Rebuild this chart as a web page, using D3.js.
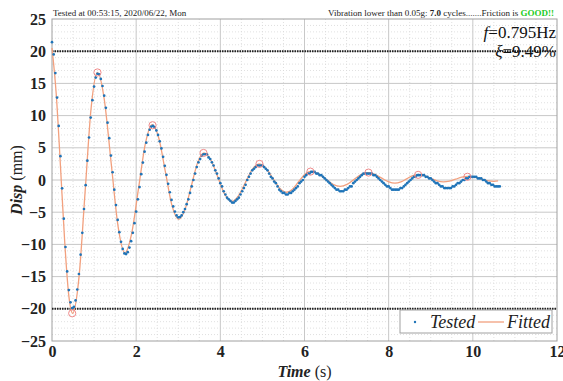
<!DOCTYPE html>
<html>
<head>
<meta charset="utf-8">
<script src="https://cdn.jsdelivr.net/npm/d3@7"></script>
<style>
  body { margin: 0; background: #fff; }
  svg text { font-family: "Liberation Serif", "Times New Roman", serif; }
</style>
</head>
<body>
<div id="chart"></div>
<script>
// tested displacement, one sample every sampleStep seconds from t = 0
const sampleStep = 0.04;
const testedDisp = [
  21.4, 19.5, 16.6, 12.8, 8.4, 3.7, -1.3, -6.0, -10.4, -14.2, -17.1, -19.0, -19.9,
  -19.7, -18.7, -17.0, -14.6, -11.6, -8.2, -4.5, -0.8, 3.0, 6.6, 9.7, 12.4, 14.5, 15.9, 16.5,
  16.4, 15.7, 14.6, 13.1, 11.2, 8.9, 6.5, 3.8, 1.2, -1.5, -3.9, -6.2, -8.1, -9.6, -10.7, -11.4,
  -11.5, -11.2, -10.5, -9.5, -8.2, -6.7, -4.9, -3.0, -1.1, 0.9, 2.7, 4.4, 5.8, 7.0, 7.8, 8.3,
  8.4, 8.2, 7.7, 7.0, 6.0, 4.9, 3.6, 2.2, 0.8, -0.6, -1.9, -3.1, -4.1, -4.9, -5.5, -5.8,
  -5.75, -5.5, -5.0, -4.5, -3.75, -3.0, -2.0, -1.0, 0, 1.0, 2.0, 2.75, 3.25, 3.75, 4.0,
  4.0, 4.0, 3.5, 3.25, 2.75, 2.25, 1.5, 1.0, 0.25, -0.5, -1.0, -1.75, -2.25, -2.75, -3.0, -3.25, -3.5,
  -3.5, -3.25, -3.0, -2.75, -2.25, -1.75, -1.25, -0.75, 0, 0.5, 1.0, 1.5, 1.75, 2.0, 2.25, 2.25,
  2.25, 2.25, 2.0, 1.75, 1.5, 1.0, 0.5, 0.25, -0.25, -0.5, -1.0, -1.5, -1.75, -2.0, -2.0, -2.25,
  -2.25, -2.0, -2.0, -1.75, -1.5, -1.25, -1.0, -0.5, -0.25, 0, 0.5, 0.75, 1.0, 1.0, 1.25, 1.25,
  1.25, 1.0, 1.0, 0.75, 0.75, 0.5, 0.25, 0, -0.25, -0.5, -0.75, -1.0, -1.25, -1.5, -1.5, -1.75, -1.75,
  -1.75, -1.5, -1.5, -1.25, -1.0, -1.0, -0.5, -0.25, 0, 0.25, 0.5, 0.75, 1.0, 1.0, 1.0,
  1.0, 1.0, 1.0, 0.75, 0.75, 0.5, 0.25, 0, -0.25, -0.5, -0.75, -1.0, -1.0, -1.25, -1.5, -1.5, -1.5,
  -1.5, -1.5, -1.25, -1.25, -1.0, -0.75, -0.5, -0.25, 0, 0.25, 0.5, 0.5, 0.75, 0.75,
  0.75, 0.75, 0.75, 0.5, 0.5, 0.25, 0.25, 0, -0.25, -0.5, -0.5, -0.75, -1.0, -1.0, -1.25, -1.25,
  -1.25, -1.25, -1.25, -1.0, -1.0, -0.75, -0.5, -0.5, -0.25, 0, 0, 0.25, 0.25, 0.5, 0.5, 0.5,
  0.5, 0.5, 0.25, 0.25, 0.25, 0, 0, -0.25, -0.5, -0.5, -0.75, -0.75, -1.0, -1.0, -1.0, -1.0
];

// fitted curve, read at extremes and between them
const fitTime = [0, 0.1, 0.2, 0.3, 0.4, 0.49, 0.64, 0.785, 0.93, 1.08, 1.24, 1.405, 1.57, 1.73,
  1.89, 2.055, 2.22, 2.38, 2.54, 2.695, 2.85, 3.01, 3.16, 3.31, 3.46, 3.61, 3.775, 3.94, 4.105, 4.27,
  4.43, 4.595, 4.76, 4.92, 5.08, 5.245, 5.41, 5.57, 5.715, 5.86, 6.005, 6.15, 6.325, 6.5, 6.675, 6.85,
  7.01, 7.175, 7.34, 7.5, 7.66, 7.825, 7.99, 8.15, 8.29, 8.425, 8.56, 8.7, 8.85, 9.0, 9.15, 9.3,
  9.445, 9.59, 9.735, 9.88, 10.035, 10.19, 10.345, 10.5, 10.6];
const fitDisp = [20.5, 13.4, 2.3, -9.4, -18.0, -20.7, -15.2, -2.0, 11.2, 16.7, 12.6, 2.7, -7.2, -11.3,
  -8.4, -1.35, 5.7, 8.6, 6.45, 1.25, -3.95, -6.1, -4.6, -0.95, 2.7, 4.2, 3.1, 0.45, -2.2, -3.3,
  -2.45, -0.4, 1.65, 2.5, 1.86, 0.3, -1.26, -1.9, -1.42, -0.275, 0.87, 1.35, 1.0, 0.175, -0.66, -1.0,
  -0.69, 0.075, 0.84, 1.15, 0.91, 0.325, -0.26, -0.5, -0.3, 0.175, 0.65, 0.85, 0.68, 0.275, -0.13, -0.3,
  -0.18, 0.125, 0.43, 0.55, 0.44, 0.175, -0.09, -0.2, -0.15];

// picked peaks (red circles)
const peakTime = [0.48, 1.08, 2.39, 3.6, 4.93, 6.14, 7.52, 8.7, 9.87];
const peakDisp = [-20.7, 16.7, 8.5, 4.2, 2.5, 1.3, 1.15, 0.8, 0.5];

const limitLines = [20, -20];
const xTicks = [0, 2, 4, 6, 8, 10, 12];
const yTicks = [-25, -20, -15, -10, -5, 0, 5, 10, 15, 20, 25];

const width = 563, height = 381;
const margin = {top: 19, right: 6, bottom: 40, left: 52};

const svg = d3.select('#chart').append('svg')
  .attr('width', width).attr('height', height);

const x = d3.scaleLinear().domain([0, 12]).range([margin.left, width - margin.right]);
const y = d3.scaleLinear().domain([-25, 25]).range([height - margin.bottom, margin.top]);

// grid - minor dotted, major solid
const grid = svg.append('g');
grid.selectAll('.vmin').data(d3.range(0.5, 12, 0.5).filter(v => v % 2 !== 0)).join('line')
  .attr('x1', d => x(d)).attr('x2', d => x(d))
  .attr('y1', y(25)).attr('y2', y(-25))
  .attr('stroke', '#d8d8d8').attr('stroke-width', 0.8).attr('stroke-dasharray', '1,2');
grid.selectAll('.hmin').data(d3.range(-24, 25, 1).filter(v => v % 5 !== 0)).join('line')
  .attr('x1', x(0)).attr('x2', x(12))
  .attr('y1', d => y(d)).attr('y2', d => y(d))
  .attr('stroke', '#d8d8d8').attr('stroke-width', 0.8).attr('stroke-dasharray', '1,2');
grid.selectAll('.vmaj').data(xTicks.slice(1, -1)).join('line')
  .attr('x1', d => x(d)).attr('x2', d => x(d))
  .attr('y1', y(25)).attr('y2', y(-25))
  .attr('stroke', '#c8c8c8').attr('stroke-width', 1);
grid.selectAll('.hmaj').data(yTicks.slice(1, -1)).join('line')
  .attr('x1', x(0)).attr('x2', x(12))
  .attr('y1', d => y(d)).attr('y2', d => y(d))
  .attr('stroke', '#c8c8c8').attr('stroke-width', 1);

// frame
svg.append('rect')
  .attr('x', x(0)).attr('y', y(25))
  .attr('width', x(12) - x(0)).attr('height', y(-25) - y(25))
  .attr('fill', 'none').attr('stroke', '#a0a0a0').attr('stroke-width', 1);

// +/-20 limit lines
svg.selectAll('.limit').data(limitLines).join('line')
  .attr('x1', x(0)).attr('x2', x(12))
  .attr('y1', d => y(d)).attr('y2', d => y(d))
  .attr('stroke', '#222').attr('stroke-width', 2).attr('stroke-dasharray', '1.5,1');

// axes
const yAxis = svg.append('g').attr('transform', `translate(${margin.left},0)`)
  .call(d3.axisLeft(y).tickValues(yTicks).tickSize(0).tickPadding(6));
const xAxis = svg.append('g').attr('transform', `translate(0,${height - margin.bottom})`)
  .call(d3.axisBottom(x).tickValues(xTicks).tickSize(0).tickPadding(5));
[yAxis, xAxis].forEach(g => {
  g.select('.domain').remove();
  g.selectAll('text').attr('font-size', 16).attr('font-weight', 'bold')
    .attr('fill', '#222').style('font-family', '"Liberation Serif", serif');
});

// fitted line
const line = d3.line().x(d => x(d[0])).y(d => y(d[1])).curve(d3.curveMonotoneX);
svg.append('path')
  .datum(fitTime.map((t, i) => [t, fitDisp[i]]))
  .attr('d', line)
  .attr('fill', 'none').attr('stroke', '#f2a07e').attr('stroke-width', 1.3);

// tested dots
svg.append('g').selectAll('circle').data(testedDisp).join('circle')
  .attr('cx', (d, i) => x(i * sampleStep))
  .attr('cy', d => y(d))
  .attr('r', 1.35)
  .attr('fill', '#1f74b8');

// peak markers
svg.append('g').selectAll('circle').data(peakTime).join('circle')
  .attr('cx', d => x(d))
  .attr('cy', (d, i) => y(peakDisp[i]))
  .attr('r', 3.6)
  .attr('fill', 'none').attr('stroke', '#f08a8a').attr('stroke-width', 1);

// header texts
svg.append('text').attr('x', 53).attr('y', 16)
  .attr('font-size', 9).attr('fill', '#222')
  .text('Tested at 00:53:15, 2020/06/22, Mon');
const info = svg.append('text').attr('x', 554).attr('y', 16)
  .attr('text-anchor', 'end').attr('font-size', 9).attr('fill', '#222');
info.append('tspan').text('Vibration lower than 0.05g: ');
info.append('tspan').attr('font-weight', 'bold').text('7.0');
info.append('tspan').text(' cycles.......Friction is ');
info.append('tspan').attr('font-weight', 'bold').attr('fill', '#22cc22').text('GOOD!!');

// frequency / damping annotation
const fTxt = svg.append('text').attr('x', 556).attr('y', 38)
  .attr('text-anchor', 'end').attr('font-size', 17).attr('fill', '#111');
fTxt.append('tspan').attr('font-style', 'italic').text('f');
fTxt.append('tspan').text('=0.795Hz');
const zTxt = svg.append('text').attr('x', 556).attr('y', 57)
  .attr('text-anchor', 'end').attr('font-size', 17).attr('fill', '#111');
zTxt.append('tspan').attr('font-style', 'italic').text('ξ');
zTxt.append('tspan').text('=9.49%');

// axis titles
const yl = svg.append('text')
  .attr('transform', `translate(22,${y(0)}) rotate(-90)`)
  .attr('text-anchor', 'middle').attr('font-size', 16).attr('fill', '#222');
yl.append('tspan').attr('font-weight', 'bold').attr('font-style', 'italic').text('Disp');
yl.append('tspan').text('  (mm)');
const xl = svg.append('text')
  .attr('x', (x(0) + x(12)) / 2).attr('y', 377)
  .attr('text-anchor', 'middle').attr('font-size', 16).attr('fill', '#222');
xl.append('tspan').attr('font-weight', 'bold').attr('font-style', 'italic').text('Time');
xl.append('tspan').text('  (s)');

// legend
const lg = svg.append('g').attr('transform', 'translate(400,310)');
lg.append('rect').attr('width', 152).attr('height', 23)
  .attr('fill', '#fff').attr('stroke', '#a0a0a0');
lg.append('circle').attr('cx', 15).attr('cy', 12).attr('r', 1.2).attr('fill', '#1f74b8');
lg.append('text').attr('x', 30).attr('y', 18).attr('font-size', 18)
  .attr('font-style', 'italic').attr('fill', '#222').text('Tested');
lg.append('line').attr('x1', 78).attr('x2', 104).attr('y1', 12).attr('y2', 12)
  .attr('stroke', '#f2a07e').attr('stroke-width', 1.3);
lg.append('text').attr('x', 107).attr('y', 18).attr('font-size', 18)
  .attr('font-style', 'italic').attr('fill', '#222').text('Fitted');
</script>
</body>
</html>
